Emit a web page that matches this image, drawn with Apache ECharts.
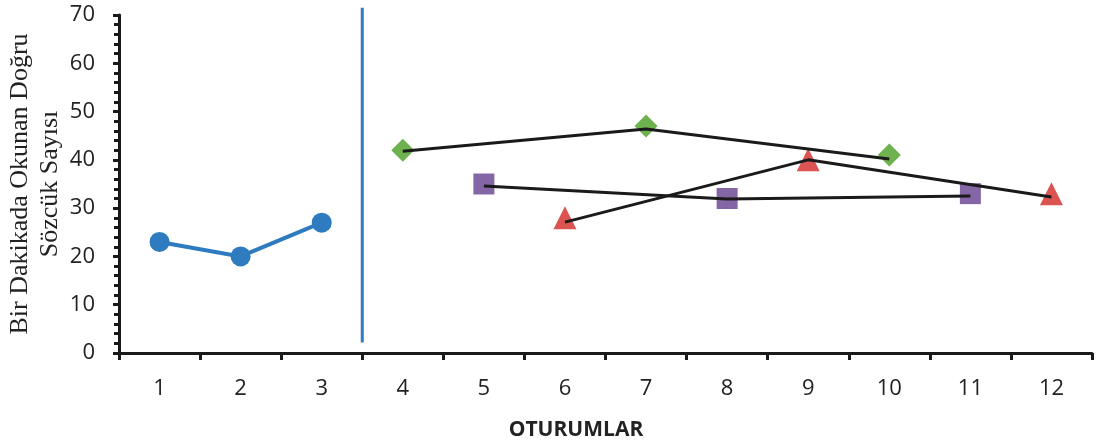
<!DOCTYPE html>
<html>
<head>
<meta charset="utf-8">
<script src="https://cdn.jsdelivr.net/npm/echarts@6/dist/echarts.min.js"></script>
<style>
  html, body { margin: 0; padding: 0; background: #fff; }
  #main { width: 1097px; height: 447px; }
</style>
</head>
<body>
<div id="main"></div>
<script>
// sessions on the x axis
let sessions = ["1", "2", "3", "4", "5", "6", "7", "8", "9", "10", "11", "12"];

// baseline phase (sessions 1-3)
let baseline = [23, 20, 27, "-", "-", "-", "-", "-", "-", "-", "-", "-"];

// three conditions, alternating
let greenPts = ["-", "-", "-", 42, "-", "-", 47, "-", "-", 41, "-", "-"];
let purplePts = ["-", "-", "-", "-", 35, "-", "-", 32, "-", "-", 33, "-"];
let redPts = ["-", "-", "-", "-", "-", 28, "-", "-", 40, "-", "-", 33];

// black connecting lines drawn over each condition
let greenTrend = ["-", "-", "-", 41.8, "-", "-", 46.4, "-", "-", 40.2, "-", "-"];
let purpleTrend = ["-", "-", "-", "-", 34.6, "-", "-", 31.9, "-", "-", 32.5, "-"];
let redTrend = ["-", "-", "-", "-", "-", 27.1, "-", "-", 40, "-", "-", 32.3];

// phase change line between session 3 and 4 (x on 0..12 scale, y bottom/top)
let phaseX = 3;
let phaseY = [2.2, 71.5];

let myChart = echarts.init(document.getElementById("main"));

function markerSeries(name, values, symbol, size, color) {
    return {
        name: name,
        type: "line",
        data: values,
        symbol: symbol,
        symbolSize: size,
        lineStyle: { width: 0 },
        itemStyle: { color: color, opacity: 1 },
        z: 3
    };
}

function trendSeries(values) {
    return {
        type: "line",
        data: values,
        connectNulls: true,
        showSymbol: false,
        symbol: "none",
        lineStyle: { color: "#1a1a1a", width: 3 },
        z: 4
    };
}

let tickFont = { fontFamily: "Open Sans", fontSize: 22, color: "#222" };

let option = {
    animation: false,
    grid: { left: 119, right: 5, top: 15, bottom: 94, outerBoundsMode: "none" },
    xAxis: [
        {
            type: "category",
            data: sessions,
            boundaryGap: true,
            axisLine: { lineStyle: { color: "#1a1a1a", width: 3 } },
            axisTick: { show: true, length: 7, lineStyle: { color: "#1a1a1a", width: 3 } },
            axisLabel: Object.assign({ margin: 25 }, tickFont),
            name: "OTURUMLAR",
            nameLocation: "middle",
            nameGap: 67,
            nameMoveOverlap: false,
            nameTextStyle: {
                fontFamily: "Open Sans",
                fontSize: 21,
                fontWeight: "bold",
                color: "#222",
                padding: [0, 59, 0, 0]
            }
        },
        {
            type: "value",
            min: 0,
            max: 12,
            show: false
        }
    ],
    yAxis: {
        type: "value",
        min: 0,
        max: 70,
        interval: 10,
        splitLine: { show: false },
        axisLine: { show: true, lineStyle: { color: "#1a1a1a", width: 3 } },
        axisTick: { show: true, length: 6, lineStyle: { color: "#1a1a1a", width: 3 } },
        minorTick: { show: true, splitNumber: 5, length: 5, lineStyle: { color: "#1a1a1a", width: 3 } },
        axisLabel: Object.assign({ margin: 24 }, tickFont),
        name: "Bir Dakikada Okunan Doğru\nSözcük Sayısı",
        nameLocation: "middle",
        nameGap: 54,
        nameMoveOverlap: false,
        nameTextStyle: {
            fontFamily: "Liberation Serif",
            fontSize: 26,
            lineHeight: 30,
            color: "#222"
        }
    },
    series: [
        {
            name: "Başlama",
            type: "line",
            data: baseline,
            symbol: "circle",
            symbolSize: 20,
            lineStyle: { color: "#2E7BBF", width: 4 },
            itemStyle: { color: "#2E7BBF" },
            z: 3
        },
        markerSeries("A", greenPts, "diamond", 23, "#6DB24F"),
        markerSeries("B", purplePts, "rect", 21, "#8465A6"),
        markerSeries("C", redPts, "triangle", 23, "#DB5452"),
        trendSeries(greenTrend),
        trendSeries(purpleTrend),
        trendSeries(redTrend),
        {
            type: "line",
            xAxisIndex: 1,
            data: [[phaseX, phaseY[0]], [phaseX, phaseY[1]]],
            symbol: "none",
            clip: false,
            lineStyle: { color: "#2E7BBF", width: 3 },
            z: 2
        }
    ]
};

myChart.setOption(option);
</script>
</body>
</html>
